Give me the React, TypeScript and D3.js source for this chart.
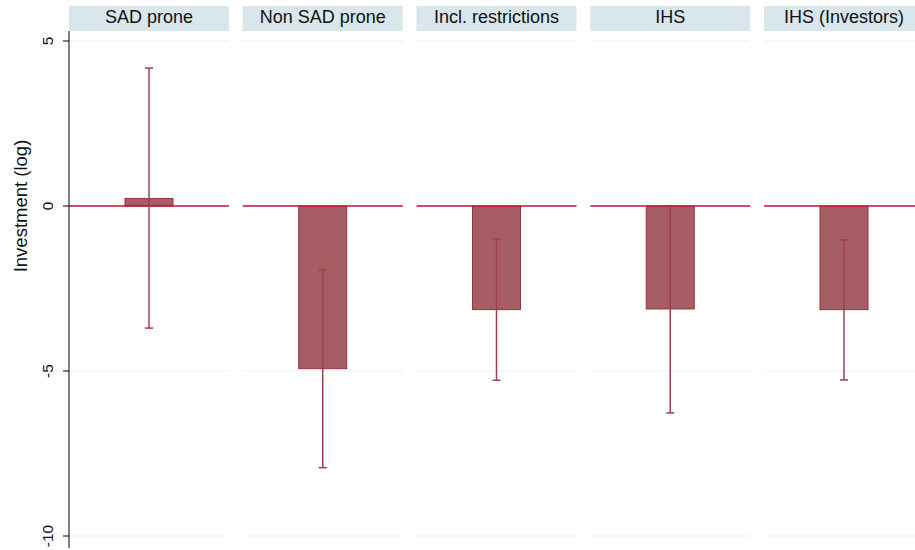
import React from "react";
import * as d3 from "d3";

const panels = ["SAD prone", "Non SAD prone", "Incl. restrictions", "IHS", "IHS (Investors)"];
const estimates = [0.23, -4.93, -3.14, -3.12, -3.14];
const ciLower = [-3.7, -7.93, -5.28, -6.27, -5.27];
const ciUpper = [4.18, -1.93, -1.0, 0.01, -1.03];
const yTicks = [5, 0, -5, -10];

const W = 915;
const H = 550;
const axisX = 69;
const panelW = 160;
const panelStep = 173.75;
const stripTop = 6;
const stripH = 25;

export default function App() {
  const y = d3.scaleLinear().domain([-10, 5]).range([536, 41]);
  const xPanel = (i: number) => axisX + i * panelStep;
  const barW = 48;
  const fontFam = "Arial, 'Liberation Sans', Helvetica, sans-serif";

  return (
    <svg width={W} height={H} style={{ position: "absolute", left: 0, top: 0, background: "#fff" }}>
      <rect x={0} y={0} width={W} height={H} fill="#fff" />
      {panels.map((p, i) => {
        const x0 = xPanel(i);
        const cx = x0 + panelW / 2;
        const v = estimates[i];
        return (
          <g key={p}>
            <rect x={x0} y={stripTop} width={panelW} height={stripH} fill="#d9e6eb" />
            <text x={cx} y={stripTop + 17} textAnchor="middle" fontSize={18} fontFamily={fontFam} fill="#111">
              {p}
            </text>
            {yTicks.filter((t) => t !== 0).map((t) => (
              <line key={t} x1={x0} x2={x0 + panelW} y1={y(t)} y2={y(t)} stroke="#eaf2f3" strokeWidth={1.2} />
            ))}
            <rect
              x={cx - barW / 2}
              y={Math.min(y(v), y(0))}
              width={barW}
              height={Math.abs(y(v) - y(0))}
              fill="#a65d63"
              stroke="#94343f"
              strokeWidth={1}
            />
            <line x1={x0} x2={x0 + panelW} y1={y(0)} y2={y(0)} stroke="#c5123a" strokeWidth={1.5} />
            <line x1={cx} x2={cx} y1={y(ciUpper[i])} y2={y(ciLower[i])} stroke="#a0404c" strokeWidth={1.5} />
            <line x1={cx - 4} x2={cx + 4} y1={y(ciUpper[i])} y2={y(ciUpper[i])} stroke="#a0404c" strokeWidth={1.5} />
            <line x1={cx - 4} x2={cx + 4} y1={y(ciLower[i])} y2={y(ciLower[i])} stroke="#a0404c" strokeWidth={1.5} />
          </g>
        );
      })}
      <line x1={axisX} x2={axisX} y1={31} y2={548} stroke="#000" strokeWidth={1} />
      {yTicks.map((t) => (
        <g key={t}>
          <line x1={axisX - 6} x2={axisX} y1={y(t)} y2={y(t)} stroke="#000" strokeWidth={1} />
          <text
            transform={`translate(53,${y(t)}) rotate(-90)`}
            textAnchor="middle"
            fontSize={15.5}
            fontFamily={fontFam}
            fill="#111"
          >
            {t}
          </text>
        </g>
      ))}
      <text
        transform={`translate(27,${y(0)}) rotate(-90)`}
        textAnchor="middle"
        fontSize={18.5}
        fontFamily={fontFam}
        fill="#111"
      >
        Investment (log)
      </text>
    </svg>
  );
}
